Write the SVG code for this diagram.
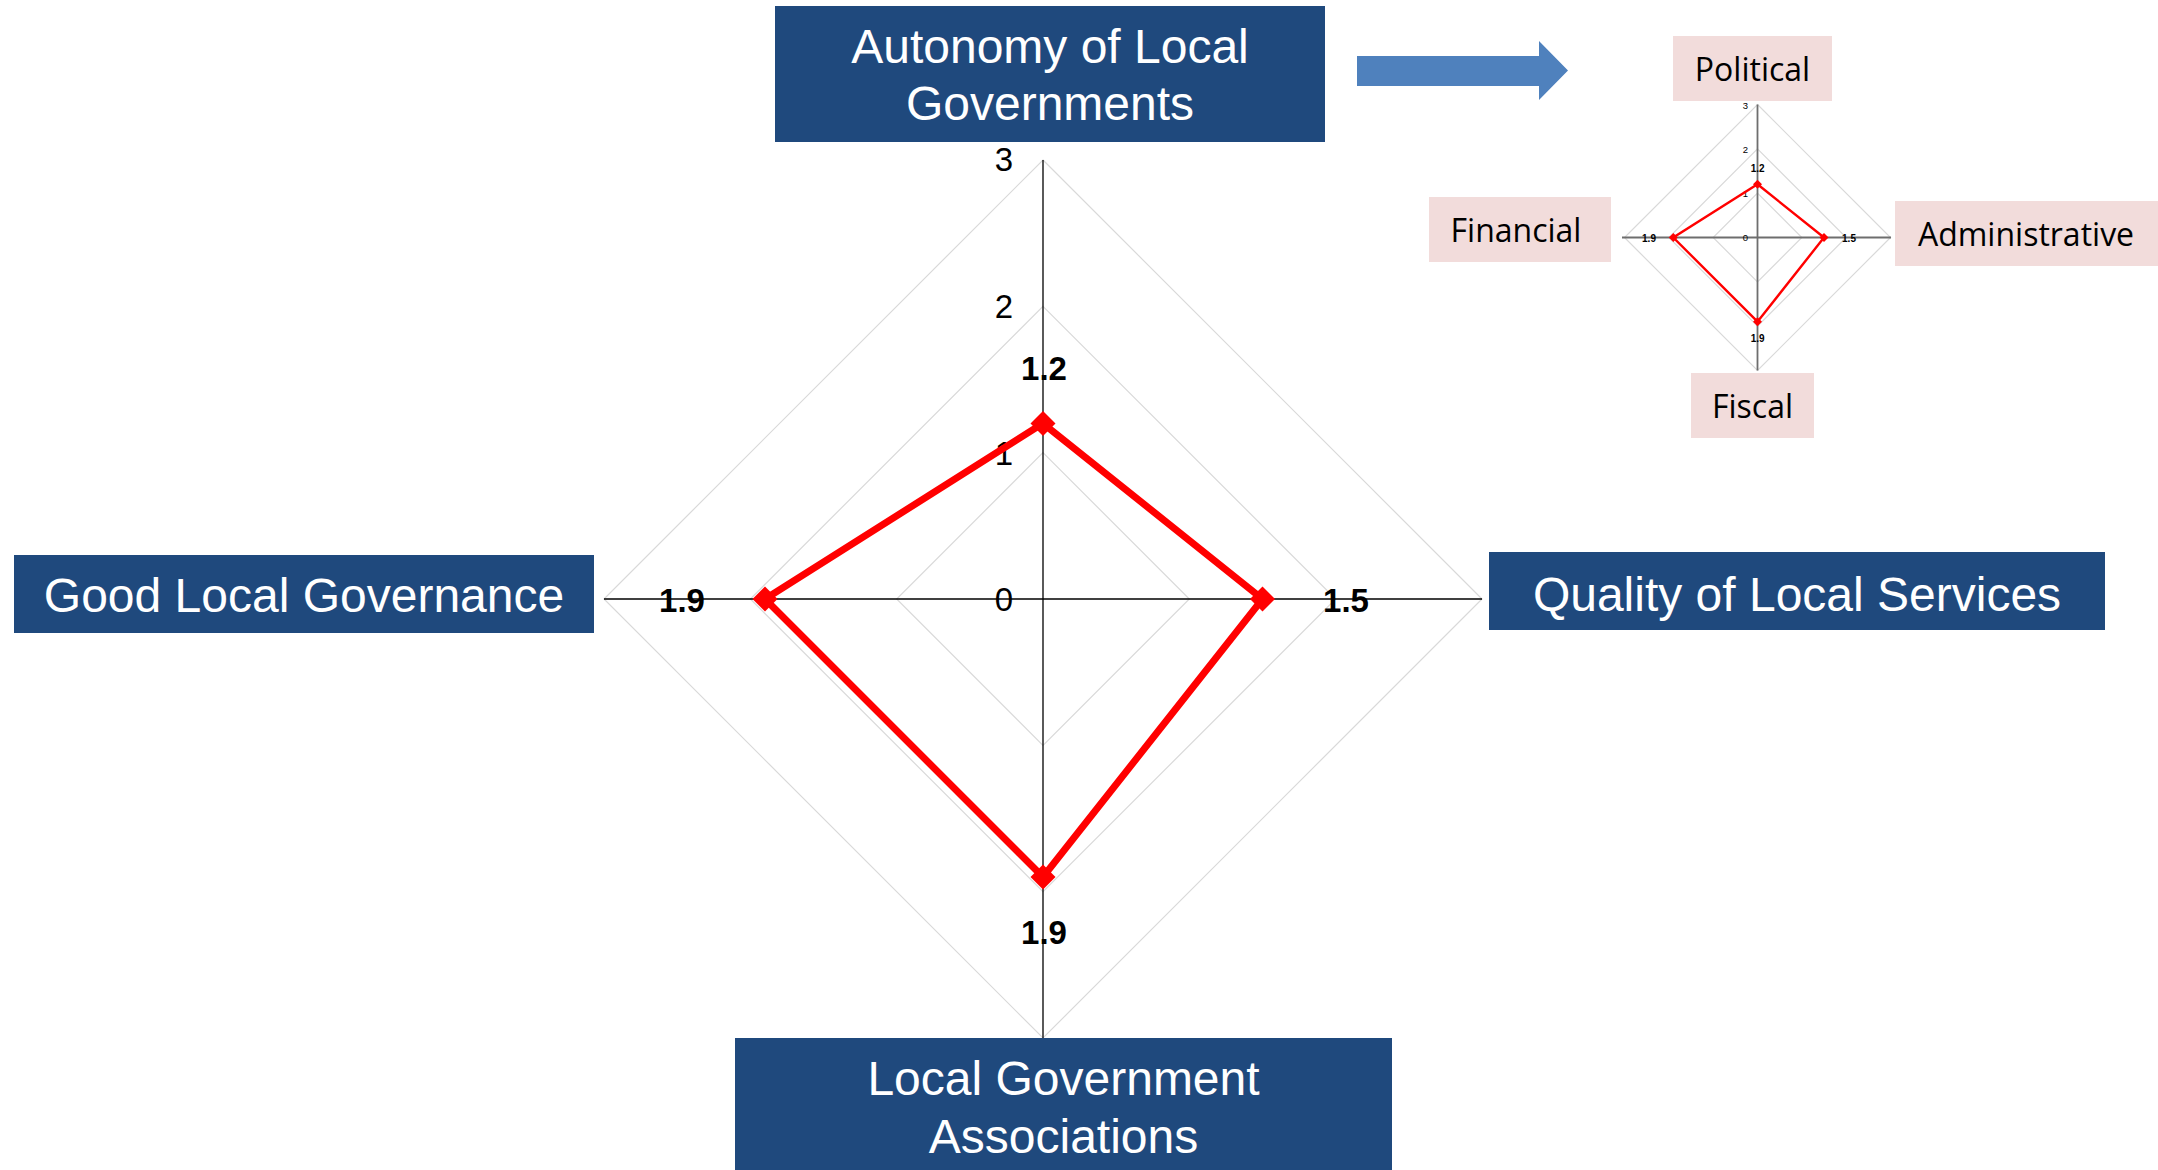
<svg xmlns="http://www.w3.org/2000/svg" xmlns:xlink="http://www.w3.org/1999/xlink" width="2158" height="1170" viewBox="0 0 2158 1170">
<defs>
<style>
.blue{fill:#1F497D}
.btxt{fill:#FFFFFF;font-family:"Liberation Sans",Arial,sans-serif;font-size:48px;text-anchor:middle}
.pink{fill:#F2DCDB}
.ptxt{fill:#000000;font-family:"Open Sans","Noto Sans",sans-serif;font-size:32px;text-anchor:middle}
.grid{fill:none;stroke:#D9D9D9;stroke-width:1.2}
.axis{stroke:#000000;stroke-width:1.3}
.axis2{stroke:#6E6E6E;stroke-width:1.8}
.tick{font-family:"Liberation Sans",Arial,sans-serif;font-size:33px;fill:#000;text-anchor:middle}
.val{font-family:"Liberation Sans",Arial,sans-serif;font-size:33px;font-weight:bold;fill:#000;text-anchor:middle}
.tick2{font-family:"Liberation Sans",Arial,sans-serif;font-size:9.5px;fill:#000;text-anchor:middle}
.val2{font-family:"Liberation Sans",Arial,sans-serif;font-size:10px;font-weight:bold;fill:#000;text-anchor:middle}
.series{fill:none;stroke:#FF0000;stroke-width:7;stroke-linejoin:miter}
.series2{fill:none;stroke:#FF0000;stroke-width:2.4}
</style>
<path id="mk" d="M0,-12.5 L12.5,0 L0,12.5 L-12.5,0 Z" fill="#FF0000"/>
<path id="mk2" d="M0,-4.5 L4.5,0 L0,4.5 L-4.5,0 Z" fill="#FF0000"/>
</defs>
<rect x="0" y="0" width="2158" height="1170" fill="#FFFFFF"/>

<g id="main-chart">
<polygon class="grid" points="1043,452.67 1189.33,599 1043,745.33 896.67,599"/>
<polygon class="grid" points="1043,306.33 1335.67,599 1043,891.67 750.33,599"/>
<polygon class="grid" points="1043,160 1482,599 1043,1038 604,599"/>
<line class="axis" x1="1043" y1="160" x2="1043" y2="1038"/>
<line class="axis" x1="604" y1="599" x2="1482" y2="599"/>
<text class="tick" x="1004" y="171">3</text>
<text class="tick" x="1004" y="318">2</text>
<text class="tick" x="1004" y="465">1</text>
<text class="tick" x="1004" y="611">0</text>
<polygon class="series" points="1043,423.4 1262.5,599 1043,877 765,599"/>
<use xlink:href="#mk" x="1043" y="423.4"/>
<use xlink:href="#mk" x="1262.5" y="599"/>
<use xlink:href="#mk" x="1043" y="877"/>
<use xlink:href="#mk" x="765" y="599"/>
<text class="val" x="1044" y="380">1.2</text>
<text class="val" x="1346" y="612">1.5</text>
<text class="val" x="1044" y="944">1.9</text>
<text class="val" x="682" y="612">1.9</text>
</g>

<g id="mini-chart">
<polygon class="grid" points="1757.5,193.17 1801.83,237.5 1757.5,281.83 1713.17,237.5"/>
<polygon class="grid" points="1757.5,148.83 1846.17,237.5 1757.5,326.17 1668.83,237.5"/>
<polygon class="grid" points="1757.5,104.5 1890.5,237.5 1757.5,370.5 1624.5,237.5"/>
<line class="axis2" x1="1757.5" y1="104.5" x2="1757.5" y2="370.5"/>
<line class="axis2" x1="1622" y1="237.5" x2="1891" y2="237.5"/>
<text class="tick2" x="1745.5" y="108.5">3</text>
<text class="tick2" x="1745.5" y="152.5">2</text>
<text class="tick2" x="1745.5" y="196.5">1</text>
<text class="tick2" x="1745.5" y="241">0</text>
<polygon class="series2" points="1757.5,184.3 1824,237.5 1757.5,321.7 1673.3,237.5"/>
<use xlink:href="#mk2" x="1757.5" y="184.3"/>
<use xlink:href="#mk2" x="1824" y="237.5"/>
<use xlink:href="#mk2" x="1757.5" y="321.7"/>
<use xlink:href="#mk2" x="1673.3" y="237.5"/>
<text class="val2" x="1757.7" y="171.5">1.2</text>
<text class="val2" x="1849" y="241.5">1.5</text>
<text class="val2" x="1757.7" y="341.5">1.9</text>
<text class="val2" x="1649" y="241.5">1.9</text>
</g>

<g id="node-autonomy">
<rect class="blue" x="775" y="6" width="550" height="136"/>
<text class="btxt" x="1050" y="63">Autonomy of Local</text>
<text class="btxt" x="1050" y="120">Governments</text>
</g>
<g id="node-good-governance">
<rect class="blue" x="14" y="555" width="580" height="78"/>
<text class="btxt" x="304" y="612">Good Local Governance</text>
</g>
<g id="node-quality">
<rect class="blue" x="1489" y="552" width="616" height="78"/>
<text class="btxt" x="1797" y="611">Quality of Local Services</text>
</g>
<g id="node-lga">
<rect class="blue" x="735" y="1038" width="657" height="132"/>
<text class="btxt" x="1063.5" y="1095">Local Government</text>
<text class="btxt" x="1063.5" y="1153">Associations</text>
</g>

<g id="node-political">
<rect class="pink" x="1673" y="36" width="159" height="65"/>
<text class="ptxt" x="1752.5" y="81">Political</text>
</g>
<g id="node-financial">
<rect class="pink" x="1429" y="197" width="182" height="65"/>
<text class="ptxt" x="1516" y="242">Financial</text>
</g>
<g id="node-administrative">
<rect class="pink" x="1895" y="201" width="263" height="65"/>
<text class="ptxt" x="2026" y="246">Administrative</text>
</g>
<g id="node-fiscal">
<rect class="pink" x="1691" y="373" width="123" height="65"/>
<text class="ptxt" x="1752.5" y="418">Fiscal</text>
</g>

<g id="connectors">
<polygon points="1357,56 1539,56 1539,41 1568,70.5 1539,100 1539,86 1357,86" fill="#4F81BD"/>
</g>
</svg>
